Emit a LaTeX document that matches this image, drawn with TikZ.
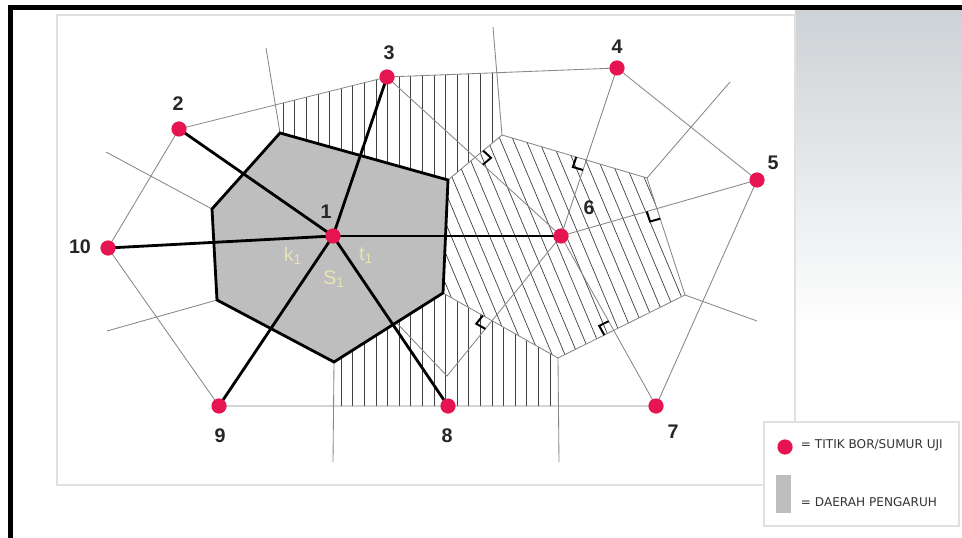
\documentclass[tikz,border=0pt]{standalone}
\usepackage{fontspec}
\setmainfont{Liberation Sans}
\newfontfamily\legendfont{DejaVu Sans}
\usetikzlibrary{calc}

\definecolor{wellred}{RGB}{230,20,80}
\definecolor{cellgray}{RGB}{190,190,190}
\definecolor{thingray}{RGB}{135,135,135}
\definecolor{paleyellow}{RGB}{232,228,180}
\definecolor{sidegray}{RGB}{205,210,214}

\tikzset{
well/.style={circle,fill=wellred,inner sep=0pt,minimum size=0.38cm},
thinline/.style={thingray,line width=0.6pt},
heavyline/.style={draw=black,line width=2pt},
hatch/.style={black!75,line width=0.5pt},
rmark/.style={black,line width=1.4pt},
numlbl/.style={font=\fontsize{14}{14}\selectfont\bfseries,text=black!85},
symlbl/.style={font=\fontsize{14}{14}\selectfont,text=paleyellow},
legtext/.style={font=\legendfont\fontsize{8.6}{9}\selectfont,text=black!80,anchor=west}
}

% right angle mark: corner, point along the line, point along the edge
\newcommand{\perpmark}[3]{%
\coordinate (ra) at ($(#1)!7.5pt!(#2)$);
\coordinate (rb) at ($(#1)!7.5pt!(#3)$);
\draw[rmark] (ra) -- ($(ra)+(rb)-(#1)$) -- (rb);
}

\begin{document}
\begin{tikzpicture}[x=0.025cm,y=-0.025cm]
\useasboundingbox (0,0) rectangle (962,538);

% Background and panel
\fill[white] (0,0) rectangle (962,538);
\shade[top color=sidegray,bottom color=white] (795,10) rectangle (962,330);
\draw[black!12,fill=white,line width=1pt] (57,15) rectangle (795,485);

% Wells
\coordinate (p1) at (333,236);
\coordinate (p2) at (179,129);
\coordinate (p3) at (387,77);
\coordinate (p4) at (617,68);
\coordinate (p5) at (757,180);
\coordinate (p6) at (561,236);
\coordinate (p7) at (656,406);
\coordinate (p8) at (448,406);
\coordinate (p9) at (219,406);
\coordinate (p10) at (108,248);

% Cell of well 1
\coordinate (a1) at (280,133);
\coordinate (a2) at (448,180);
\coordinate (a3) at (443,293);
\coordinate (a4) at (334,362);
\coordinate (a5) at (217,300);
\coordinate (a6) at (212,209);

% Cell of well 6
\coordinate (b1) at (502,135);
\coordinate (b2) at (647,178);
\coordinate (b3) at (685,295);
\coordinate (b4) at (558,358);

% Open ends of the cell edges
\coordinate (e1) at (266,48);
\coordinate (e2) at (106,152);
\coordinate (e3) at (107,331);
\coordinate (e4) at (333,462);
\coordinate (e5) at (559,462);
\coordinate (e6) at (757,321);
\coordinate (e7) at (730,82);
\coordinate (e8) at (493,27);
\coordinate (v) at (447,376);
\coordinate (vend) at (392,318);

\coordinate (h1) at (intersection of p2--p3 and e1--a1);
\coordinate (h2) at (intersection of p3--p4 and e8--b1);
\coordinate (h3) at (intersection of p9--p7 and a4--e4);
\coordinate (h4) at (intersection of p9--p7 and b4--e5);

% Vertical hatching
\begin{scope}
\clip (h1) -- (p3) -- (h2) -- (b1) -- (a2) -- (a1) -- cycle;
\foreach \k in {0,...,20}
{
\draw[hatch] ({271.5+11.6*\k},40) -- ++(0,160);
}
\end{scope}
\begin{scope}
\clip (a4) -- (a3) -- (b4) -- (h4) -- (h3) -- cycle;
\foreach \k in {4,...,26}
{
\draw[hatch] ({271.5+11.6*\k},280) -- ++(0,140);
}
\end{scope}

% Slanted hatching
\begin{scope}
\clip (a2) -- (b1) -- (b2) -- (b3) -- (b4) -- (a3) -- cycle;
\foreach \k in {0,...,28}
{
\draw[hatch] ({330+12.8*\k},100) -- ++(126,300);
}
\end{scope}

% Cell edges
\draw[thinline] (e1) -- (a1);
\draw[thinline] (a6) -- (e2);
\draw[thinline] (a5) -- (e3);
\draw[thinline] (a4) -- (e4);
\draw[thinline] (b4) -- (e5);
\draw[thinline] (b3) -- (e6);
\draw[thinline] (b2) -- (e7);
\draw[thinline] (b1) -- (e8);
\draw[thinline] (a2) -- (b1) -- (b2) -- (b3) -- (b4) -- (a3);

% Connecting lines
\draw[thinline] (p2) -- (p3) -- (p4) -- (p5) -- (p7) -- (p9) -- (p10) -- (p2);
\draw[thinline] (p3) -- (p6);
\draw[thinline] (p4) -- (p6);
\draw[thinline] (p5) -- (p6);
\draw[thinline] (p6) -- (p7);
\draw[thinline] (p6) -- (v) -- (vend);

% Influence area of well 1
\path[heavyline,fill=cellgray,line join=miter] (a1) -- (a2) -- (a3) -- (a4) -- (a5) -- (a6) -- cycle;

\foreach \j in {2,3,6,8,9,10}
{
\draw[heavyline] (p1) -- (p\j);
}

% Right angles
\coordinate (m1) at (intersection of p3--p6 and a2--b1);
\coordinate (m2) at (intersection of p4--p6 and b1--b2);
\coordinate (m3) at (intersection of p5--p6 and b2--b3);
\coordinate (m4) at (intersection of p6--p7 and b3--b4);
\coordinate (m5) at (intersection of p6--v and a3--b4);
\perpmark{m1}{p6}{b1}
\perpmark{m2}{p6}{b1}
\perpmark{m3}{p6}{b3}
\perpmark{m4}{p6}{b4}
\perpmark{m5}{v}{a3}

% Well points
\foreach \j in {1,...,10}
{
\node[well] (w\j) at (p\j) {};
}

\node[numlbl] (l1) at (326,212) {1};
\node[numlbl] (l2) at (178,104) {2};
\node[numlbl] (l3) at (389,53) {3};
\node[numlbl] (l4) at (617,47) {4};
\node[numlbl] (l5) at (773,163) {5};
\node[numlbl] (l6) at (589,208) {6};
\node[numlbl] (l7) at (673,432) {7};
\node[numlbl] (l8) at (447,436) {8};
\node[numlbl] (l9) at (220,436) {9};
\node[numlbl] (l10) at (80,247) {10};

\node[symlbl] (k1) at (293,256) {k\textsubscript{1}};
\node[symlbl] (t1) at (366,256) {t\textsubscript{1}};
\node[symlbl] (s1) at (334,279) {S\textsubscript{1}};

% Legend
\draw[black!12,fill=white,line width=0.8pt] (764,422) rectangle (959,526);
\node[well] (legwell) at (785,447) {};
\node[legtext] (legwelltext) at (796,445) {= TITIK BOR/SUMUR UJI};
\fill[cellgray] (776,475) rectangle (791,513);
\node[legtext] (legareatext) at (796,502) {= DAERAH PENGARUH};

% Frame
\draw[black,line width=3.2pt] (10.5,538) -- (10.5,7.5) -- (962,7.5);

\end{tikzpicture}
\end{document}
